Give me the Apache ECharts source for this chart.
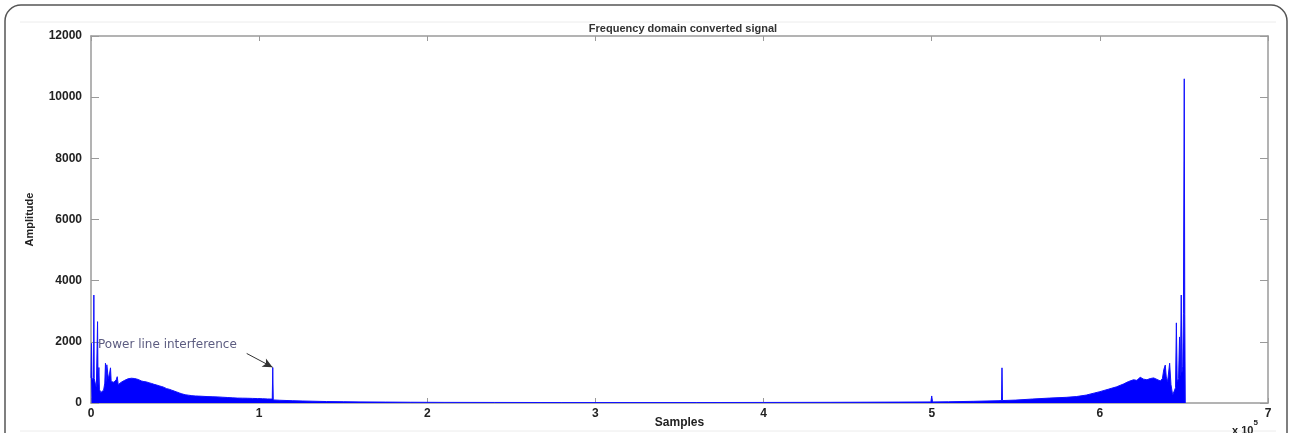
<!DOCTYPE html>
<html>
<head>
<meta charset="utf-8">
<script src="https://cdn.jsdelivr.net/npm/echarts@6/dist/echarts.min.js"></script>
<style>
  html, body { margin: 0; padding: 0; background: #ffffff; }
  #chart { width: 1290px; height: 433px; }
</style>
</head>
<body>
<div id="chart"></div>
<script>
// ---- Data ----
const chartTitle = 'Frequency domain converted signal';
const xAxisName = 'Samples';
const yAxisName = 'Amplitude';
const annotationText = 'Power line interference';

const sampleIdx = [
  0, 300, 600, 1000, 1500, 1700, 1900, 2500, 3200, 3900, 4200, 4700, 5000, 5800, 6700,
  7500, 8200, 8600, 9000, 9400, 9800, 10300, 11000, 11600, 12000, 12800, 13600, 14400,
  15000, 15600, 16200, 17000, 18000, 19000, 20000, 21000, 22000, 23000, 24000, 24500,
  25000, 26000, 27000, 28000, 29000, 30000, 31500, 33000, 34500, 36000, 37500, 39000,
  40500, 42000, 43500, 45000, 46500, 48000, 49500, 51000, 52500, 54000, 56000, 58000,
  60000, 62000, 64000, 66000, 69000, 72000, 75000, 78000, 81000, 84000, 87000, 90000,
  93000, 96000, 99000, 102000, 105000, 107800, 108100, 108400, 112000, 116000, 120000,
  126000, 132000, 140000, 150000, 160000, 175000, 190000, 210000, 240000, 280000,
  320000, 360000, 400000, 440000, 480000, 499500, 500000, 500500, 510000, 525000,
  540000, 541500, 541800, 542100, 550000, 560000, 570000, 580000, 586000, 592000,
  597000, 600000, 605000, 610000, 614000, 617000, 620000, 622000, 624000, 626000,
  628000, 630000, 632000, 634000, 636000, 637200, 638000, 638900, 639500, 640300,
  641500, 642300, 643300, 644200, 645000, 645500, 646000, 646800, 647400, 647900,
  648400, 648800, 649300, 649700, 650000, 650200, 650500, 650800
];
const amplitude = [
  820, 1950, 760, 720, 830, 3530, 800, 650, 520, 2660, 600, 1160, 450, 340, 320,
  420, 650, 1300, 700, 1250, 1200, 800, 950, 1150, 700, 640, 680, 620,
  760, 860, 600, 640, 680, 720, 740, 760, 790, 800, 810, 830,
  790, 800, 760, 770, 730, 720, 700, 690, 660, 640, 610, 590,
  560, 540, 510, 470, 450, 420, 390, 360, 330, 300, 270, 255,
  240, 230, 225, 220, 210, 205, 200, 190, 180, 170, 160, 158,
  155, 150, 145, 140, 132, 128, 1160, 100, 90, 82, 75,
  65, 58, 48, 42, 36, 30, 25, 20, 18, 15,
  15, 15, 18, 22, 30, 35, 230, 35, 40, 55,
  75, 80, 1150, 80, 95, 130, 160, 185, 210, 260,
  330, 370, 450, 530, 620, 700, 760, 740, 840, 780,
  760, 800, 820, 770, 720, 800, 1090, 1240, 850, 700,
  1300, 600, 260, 280, 500, 2620, 700, 800, 2160, 900,
  3530, 1000, 1200, 2930, 2900, 10600, 2900, 0
];

const xTickValues = [0, 1, 2, 3, 4, 5, 6, 7];           // x 10^5
const yTickValues = [0, 2000, 4000, 6000, 8000, 10000, 12000];
const arrowFrom = [92600, 1620];
const arrowTo = [108000, 1170];
const annotationAt = [4200, 1900];

// ---- Chart ----
const seriesData = sampleIdx.map((x, i) => [x, amplitude[i]]);
const chart = echarts.init(document.getElementById('chart'), null, { renderer: 'canvas' });

const axisGray = '#9a9a9a';
const labelFont = { fontFamily: 'Liberation Sans, Arial, sans-serif', fontWeight: 'bold', fontSize: 12, color: '#222' };

const option = {
  backgroundColor: '#ffffff',
  animation: false,
  title: {
    text: chartTitle,
    left: 678, top: 18, textAlign: 'center',
    textStyle: { fontFamily: 'Liberation Sans, Arial, sans-serif', fontWeight: 'bold', fontSize: 11, color: '#333' }
  },
  grid: { left: 91, right: 22, top: 36, bottom: 30, containLabel: false, outerBoundsMode: 'none' },
  xAxis: [{
    type: 'value', min: 0, max: 700000, interval: 100000, position: 'bottom',
    name: xAxisName, nameLocation: 'middle', nameGap: 14, nameMoveOverlap: false,
    nameTextStyle: { fontFamily: 'Liberation Sans, Arial, sans-serif', fontWeight: 'bold', fontSize: 12, color: '#222' },
    axisLine: { show: true, onZero: false, lineStyle: { color: axisGray, width: 1.5 } },
    axisTick: { show: true, inside: true, length: 5, lineStyle: { color: axisGray } },
    axisLabel: Object.assign({ margin: 5, formatter: v => String(v / 100000) }, labelFont),
    splitLine: { show: false }
  }, {
    type: 'value', min: 0, max: 700000, interval: 100000, position: 'top',
    axisLine: { show: true, onZero: false, lineStyle: { color: axisGray, width: 1.5 } },
    axisTick: { show: true, inside: true, length: 5, lineStyle: { color: axisGray } },
    axisLabel: { show: false },
    splitLine: { show: false }
  }],
  yAxis: [{
    type: 'value', min: 0, max: 12000, interval: 2000, position: 'left',
    name: yAxisName, nameLocation: 'middle', nameGap: 56, nameRotate: 90, nameMoveOverlap: false,
    nameTextStyle: { fontFamily: 'Liberation Sans Narrow, Liberation Sans, sans-serif', fontWeight: 'bold', fontSize: 11, color: '#222' },
    axisLine: { show: true, onZero: false, lineStyle: { color: axisGray, width: 1.5 } },
    axisTick: { show: true, inside: true, length: 8, lineStyle: { color: axisGray } },
    axisLabel: Object.assign({ margin: 9, formatter: v => String(v) }, labelFont),
    splitLine: { show: false }
  }, {
    type: 'value', min: 0, max: 12000, interval: 2000, position: 'right',
    axisLine: { show: true, onZero: false, lineStyle: { color: axisGray, width: 1.5 } },
    axisTick: { show: true, inside: true, length: 8, lineStyle: { color: axisGray } },
    axisLabel: { show: false },
    splitLine: { show: false }
  }],
  series: [{
    type: 'line',
    xAxisIndex: 0, yAxisIndex: 0,
    data: seriesData,
    showSymbol: false,
    symbol: 'none',
    sampling: null,
    lineStyle: { color: '#1010ff', width: 1 },
    areaStyle: { color: '#0000ff', opacity: 1 },
    z: 3,
    markLine: {
      silent: true,
      symbol: ['none', 'arrow'],
      symbolSize: [7, 10],
      label: { show: false },
      lineStyle: { color: '#333', width: 1, type: 'solid' },
      data: [[{ coord: arrowFrom }, { coord: arrowTo }]]
    },
    markPoint: {
      silent: true,
      symbol: 'circle', symbolSize: 0,
      label: {
        show: true, position: 'right', distance: 0,
        fontFamily: 'DejaVu Sans, sans-serif', fontSize: 12, color: '#5c5c80'
      },
      data: [{ coord: annotationAt, label: { formatter: annotationText } }]
    }
  }],
  graphic: [
    { type: 'rect', silent: true, z: -1,
      shape: { x: 5, y: 5, width: 1282, height: 460, r: 16 },
      style: { fill: 'none', stroke: '#555', lineWidth: 1.5 } },
    { type: 'line', silent: true,
      shape: { x1: 20, y1: 22, x2: 1276, y2: 22 },
      style: { stroke: '#ececec', lineWidth: 1 } },
    { type: 'line', silent: true,
      shape: { x1: 20, y1: 431, x2: 1276, y2: 431 },
      style: { stroke: '#ececec', lineWidth: 1 } },
    { type: 'text', silent: true, left: 1232, top: 419,
      style: {
        text: '{a|x 10}{b|5}',
        rich: {
          a: { fontFamily: 'Liberation Sans, Arial, sans-serif', fontWeight: 'bold', fontSize: 11, fill: '#222', verticalAlign: 'bottom', padding: [6, 0, 0, 0] },
          b: { fontFamily: 'Liberation Sans, Arial, sans-serif', fontWeight: 'bold', fontSize: 8, fill: '#222', verticalAlign: 'top' }
        }
      } }
  ]
};
chart.setOption(option);
</script>
</body>
</html>
